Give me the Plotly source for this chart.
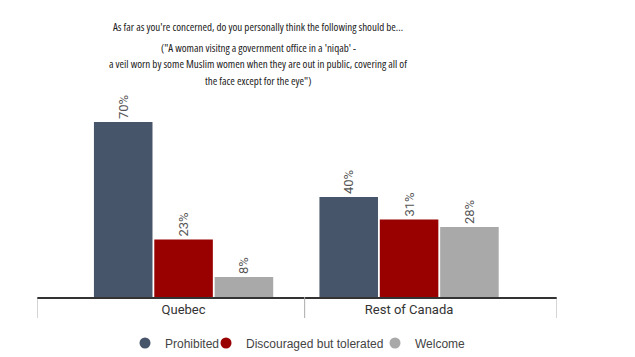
import plotly.graph_objects as go

categories = ["Quebec", "Rest of Canada"]
series_names = ["Prohibited", "Discouraged but tolerated", "Welcome"]
prohibited = [70, 40]
discouraged = [23, 31]
welcome = [8, 28]
colors = ["#465569", "#990000", "#A9A9A9"]

title_lines = [
    "As far as you're concerned, do you personally think the following should be...",
    "(\"A woman visitng a government office in a 'niqab' -",
    "a veil worn by some Muslim women when they are out in public, covering all of",
    "the face except for the eye\")",
]

L, R, T, B = 37, 78, 97, 60
PW = 635 - L - R
PH = 357 - T - B

legend_ids = ["legend", "legend2", "legend3"]
legend_px = [145, 226, 395]  # circle centres

fig = go.Figure()
for name, vals, col, lid in zip(series_names, [prohibited, discouraged, welcome], colors, legend_ids):
    fig.add_trace(go.Bar(
        x=categories, y=vals, name=name, marker_color=col,
        marker_line_width=0,
        text=[f"{v}%" for v in vals], textposition="outside", textangle=-90,
        textfont=dict(family="Roboto", size=13, color="#555555"),
        cliponaxis=False, showlegend=False, hoverinfo="skip",
    ))
    fig.add_trace(go.Scatter(
        x=[None], y=[None], mode="markers", name=name, legend=lid,
        marker=dict(symbol="circle", size=11, color=col), showlegend=True,
    ))

x0, x1 = -0.65, 1.656
legend_common = dict(orientation="h", yanchor="middle", y=(297 - 343) / PH,
                     xanchor="left", itemwidth=30, bgcolor="rgba(0,0,0,0)",
                     font=dict(family="Liberation Sans", size=12, color="#444444"))
layout_legends = {}
for lid, px in zip(legend_ids, legend_px):
    layout_legends[lid] = dict(legend_common, x=(px - 20 - L) / PW)

fig.update_layout(
    width=635, height=357,
    margin=dict(l=L, r=R, t=T, b=B, autoexpand=False),
    paper_bgcolor="white", plot_bgcolor="white",
    barmode="group", bargap=0.197, bargroupgap=0.03,
    xaxis=dict(range=[x0, x1], showline=True, linecolor="#333333", linewidth=1.5,
               ticks="", showgrid=False, automargin=False,
               tickfont=dict(family="Roboto", size=13, color="#333333")),
    yaxis=dict(range=[0, 80], visible=False, showgrid=False, automargin=False),
    showlegend=True,
    **layout_legends,
)

# category divider lines
for xv in [x0, 0.537, x1]:
    fig.add_shape(type="line", xref="x", yref="y domain", x0=xv, x1=xv, y0=0, y1=-21 / PH,
                  line=dict(color="#aaaaaa", width=1))

ys = [27, 48, 64, 81]
for line, yy in zip(title_lines, ys):
    fig.add_annotation(text='<span style="font-stretch:75%">' + line + '</span>',
                       xref="paper", yref="paper", x=(258 - L) / PW,
                       y=1 + (T - yy) / PH, showarrow=False, xanchor="center", yanchor="middle",
                       font=dict(family="Open Sans", size=11, color="#222222"))

fig.write_html("out.html", config={"displayModeBar": False},
               post_script="document.body.style.margin='0';")
